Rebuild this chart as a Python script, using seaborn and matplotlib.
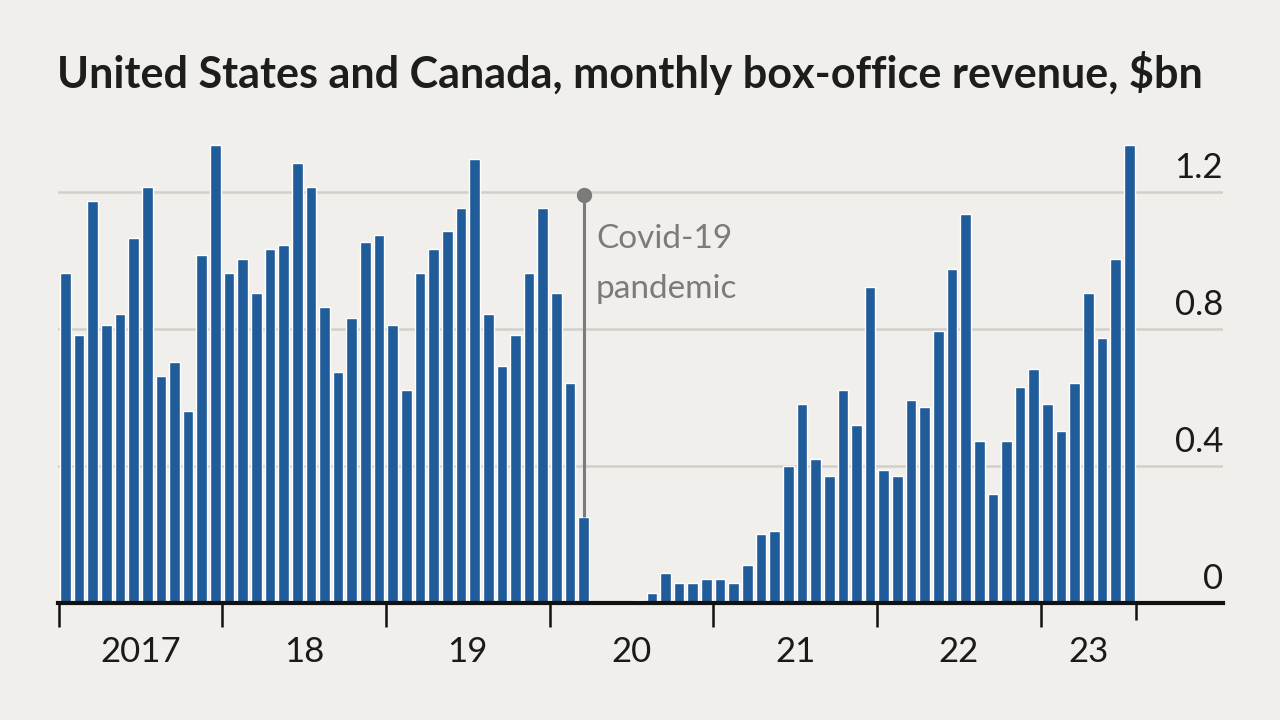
import matplotlib
matplotlib.use("Agg")
import matplotlib.pyplot as plt
import seaborn as sns
import pandas as pd

# ---- data (monthly box-office revenue, $bn, US & Canada) ----
years = ["2017", "2018", "2019", "2020", "2021", "2022", "2023"]
year_labels = ["2017", "18", "19", "20", "21", "22", "23"]
month_names = ["Jan", "Feb", "Mar", "Apr", "May", "Jun",
               "Jul", "Aug", "Sep", "Oct", "Nov", "Dec"]
v2017 = [0.964, 0.783, 1.174, 0.813, 0.844, 1.065, 1.215, 0.662, 0.703, 0.562, 1.015, 1.336]
v2018 = [0.964, 1.005, 0.904, 1.035, 1.045, 1.285, 1.215, 0.863, 0.673, 0.833, 1.054, 1.075]
v2019 = [0.813, 0.622, 0.964, 1.035, 1.085, 1.154, 1.295, 0.844, 0.692, 0.783, 0.964, 1.154]
v2020 = [0.904, 0.642, 0.250, 0.0, 0.0, 0.0, 0.009, 0.030, 0.088, 0.059, 0.059, 0.069]
v2021 = [0.069, 0.059, 0.110, 0.200, 0.210, 0.399, 0.582, 0.420, 0.370, 0.622, 0.521, 0.923]
v2022 = [0.389, 0.370, 0.592, 0.572, 0.793, 0.974, 1.135, 0.472, 0.319, 0.472, 0.632, 0.683]
v2023 = [0.582, 0.502, 0.642, 0.904, 0.773, 1.005, 1.336]
yearly = [v2017, v2018, v2019, v2020, v2021, v2022, v2023]
y_ticks = [0, 0.4, 0.8, 1.2]
y_tick_labels = ["0", "0.4", "0.8", "1.2"]
covid_month = "Mar 2020"
covid_marker_top = 1.19
title = "United States and Canada, monthly box-office revenue, $bn"

months, values = [], []
for yr, vals in zip(years, yearly):
    for m, v in zip(month_names, vals):
        months.append(f"{m} {yr}")
        values.append(v)
df = pd.DataFrame({"month": months, "revenue": values})

# ---- style ----
BG = "#f1efec"
BAR = "#1f5c99"
GRID = "#d3d0cb"
GRAY = "#7b7b7b"
TXT = "#1a1a1a"
sns.set_style("white")
plt.rcParams["font.family"] = ["Lato", "DejaVu Sans"]

W, H = 1280, 720
fig = plt.figure(figsize=(12.8, 7.2), dpi=100, facecolor=BG)
ax = fig.add_axes([58 / W, 117 / H, (1223 - 58) / W, (603 - 130) / H])
ax.set_facecolor(BG)

sns.barplot(data=df, x="month", y="revenue", order=months, color=BAR,
            saturation=1, width=0.78, errorbar=None, ax=ax, zorder=2)

n = len(months)
ax.set_xlim(-0.54, 84.87)
ax.set_ylim(0, 1.381)

# gridlines
ax.set_yticks(y_ticks)
ax.yaxis.grid(True, color=GRID, linewidth=1.8, zorder=0)
ax.set_axisbelow(True)
ax.tick_params(axis="y", left=False, right=False, labelleft=False, labelright=False)
for yv, lab in zip(y_ticks, y_tick_labels):
    ax.annotate(lab, xy=(1.0, yv), xycoords=("axes fraction", "data"),
                xytext=(0, 6), textcoords="offset points",
                ha="right", va="bottom", fontsize=25, color=TXT,
                fontweight="normal")

# spines
for s in ["top", "left", "right"]:
    ax.spines[s].set_visible(False)
ax.spines["bottom"].set_color("#111111")
ax.spines["bottom"].set_linewidth(3)
ax.spines["bottom"].set_zorder(3)

# x ticks: year boundaries (minor), year labels (major)
starts = [i for i, m in enumerate(months) if m.startswith("Jan")]
boundaries = [s - 0.5 for s in starts]
ends = boundaries[1:] + [n - 0.5]
centers = [(a + b) / 2 for a, b in zip(boundaries, ends)]
ax.set_xticks(centers)
ax.set_xticklabels(year_labels, fontsize=25, color=TXT, fontweight="normal")
ax.set_xticks(boundaries, minor=True)
ax.tick_params(axis="x", which="major", length=0, pad=24)
ax.tick_params(axis="x", which="minor", length=17, width=1.8, color="#111111",
               direction="out", bottom=True)
ax.set_xlabel("")
ax.set_ylabel("")
# short end tick after the last month
ax.vlines(n - 0.5, -0.05, 0, color="#111111", linewidth=1.8, clip_on=False, zorder=3)

# covid annotation
ci = months.index(covid_month)
ax.plot([ci, ci], [values[ci], covid_marker_top], color=GRAY, linewidth=2.2,
        zorder=3, solid_capstyle="butt")
ax.plot([ci], [covid_marker_top], marker="o", markersize=10, color=GRAY, zorder=4)
ax.text(ci + 0.9, 1.036, "Covid-19", fontsize=24, color=GRAY, va="baseline",
        ha="left", fontweight="normal")
ax.text(ci + 0.9, 0.890, "pandemic", fontsize=24, color=GRAY, va="baseline",
        ha="left", fontweight="normal")

# title, scaled to the reference width
t = fig.text(57 / W, 1 - 88 / H, title, fontsize=30, fontweight="bold",
             color="#1d1d1d", ha="left", va="baseline")
fig.canvas.draw()
r = fig.canvas.get_renderer()
w = t.get_window_extent(r).width
t.set_fontsize(30 * (1143 / w))

fig.savefig("out.png", dpi=100, facecolor=BG)
